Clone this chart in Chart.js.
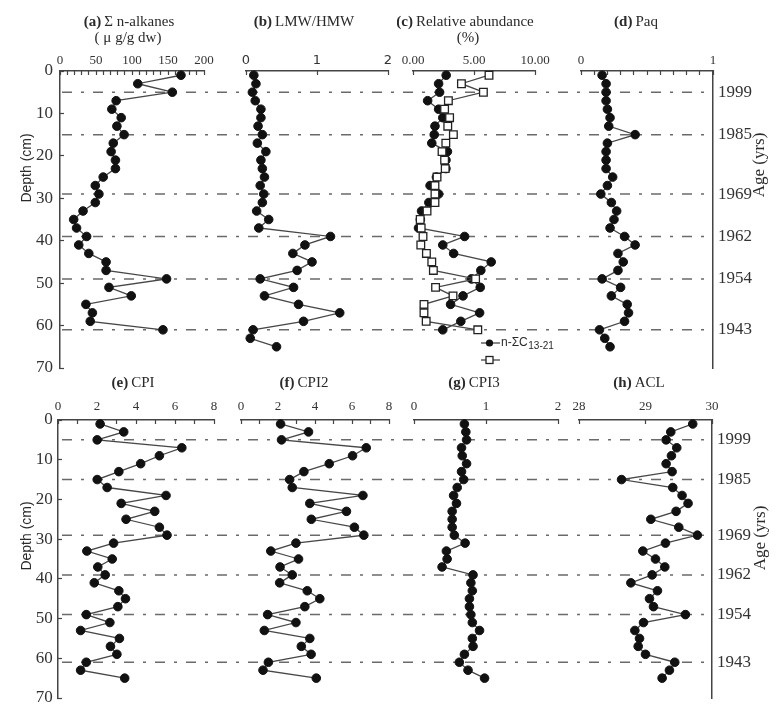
<!DOCTYPE html>
<html><head><meta charset="utf-8">
<script src="https://cdn.jsdelivr.net/npm/chart.js@4/dist/chart.umd.min.js"></script>
<style>
html,body{margin:0;padding:0;background:#fff;}
body{width:778px;height:711px;position:relative;overflow:hidden;}
canvas{position:absolute;}
</style></head><body>
<script>
// ---------- data ----------
const sampleDepths = [1,3,5,7,9,11,13,15,17,19,21,23,25,27,29,31,33,35,37,39,41,43,45,47,49,51,53,55,57,59,61,63,65];
const ageDepths = [5,15,29,39,49,61];
const ageLabels = ['1999','1985','1969','1962','1954','1943'];

const sumAlkanes = [168,108,156,78,72,85,79,89,74,71,77,77,60,49,54,49,32,19,23,37,26,40,64,64,148,68,99,36,45,42,143];
const lmwHmw = [0.11,0.14,0.09,0.13,0.21,0.21,0.17,0.23,0.16,0.28,0.21,0.23,0.26,0.20,0.25,0.23,0.15,0.32,0.18,1.19,0.83,0.66,0.93,0.72,0.20,0.67,0.26,0.74,1.32,0.81,0.10,0.06,0.43];
const relC13to21 = [2.72,2.10,2.18,1.20,2.10,2.44,1.80,1.74,1.54,2.82,2.70,2.70,1.92,1.40,2.10,1.30,0.70,0.60,0.45,4.23,2.44,3.33,6.41,5.56,4.79,5.51,4.10,3.08,5.46,3.92,2.44];
const relSecond = [6.23,3.97,5.77,2.90,2.59,3.00,2.85,3.31,2.69,2.38,2.59,2.64,1.97,1.80,1.80,1.80,1.15,0.59,0.67,0.82,0.64,1.10,1.54,1.67,5.13,1.85,3.28,0.90,0.90,1.08,5.31];
const paq = [0.16,0.19,0.19,0.19,0.20,0.22,0.21,0.41,0.20,0.19,0.19,0.19,0.24,0.20,0.15,0.23,0.27,0.25,0.22,0.33,0.41,0.28,0.32,0.28,0.16,0.30,0.23,0.35,0.36,0.33,0.14,0.18,0.22];
const cpi = [2.16,3.37,2.01,6.35,5.20,4.24,3.12,2.01,2.52,5.54,3.24,4.96,3.49,5.20,5.59,2.85,1.48,2.78,2.04,2.42,1.86,3.12,3.46,3.07,1.45,2.66,1.16,3.15,2.69,3.02,1.45,1.16,3.42];
const cpi2 = [2.14,3.65,2.19,6.77,6.03,4.77,3.40,2.63,2.77,6.59,3.72,5.70,3.80,6.13,6.64,2.97,1.61,3.11,2.11,2.77,2.09,3.58,4.26,3.45,1.44,2.97,1.26,3.72,3.26,3.79,1.48,1.19,4.07];
const cpi3 = [0.70,0.72,0.73,0.66,0.67,0.73,0.66,0.69,0.60,0.55,0.59,0.53,0.53,0.53,0.56,0.71,0.45,0.46,0.39,0.82,0.79,0.81,0.77,0.77,0.79,0.81,0.91,0.81,0.82,0.70,0.63,0.75,0.98];
const acl = [29.71,29.38,29.31,29.47,29.39,29.31,29.40,28.64,29.41,29.55,29.64,29.46,29.08,29.50,29.78,29.30,28.96,29.15,29.29,29.10,28.78,29.18,29.06,29.12,29.60,28.97,28.84,28.91,28.89,29.00,29.44,29.36,29.25];

// ---------- styling / layout ----------
const SERIF = "'Liberation Serif','Times New Roman',serif";
const SANS = "'Liberation Sans',Arial,sans-serif";
const SANS2 = "'DejaVu Sans',Verdana,sans-serif";
const INK = '#2a2a2a';
const AXIS = '#444';
Chart.defaults.font.family = SERIF;

const rows = {
  top:    {top:0,   height:380, areaTop:71,  areaBottom:368, labelPad:6.2, yLabelPad:11},
  bottom: {top:372, height:339, areaTop:420, areaBottom:698, labelPad:9.5, yLabelPad:9.3}
};

const panels = [
  {key:'a', row:'top', left:0, right:218, L:60, R:204, min:0, max:200, step:10, labelEvery:50, decimals:0, tickFamily:SERIF,
   series:[{values:sumAlkanes}],
   titles:[{bold:'(a)', text:'Σ n-alkanes', cx:129, cy:22},{text:'( μ g/g dw)', cx:128, cy:38}],
   leftAxis:{title:{text:'Depth (cm)', cx:27, cy:168}}},
  {key:'b', row:'top', left:218, right:397, L:232, R:388, min:0, max:2, step:1, labelEvery:1, decimals:0, tickFamily:SANS2,
   series:[{values:lmwHmw}],
   titles:[{bold:'(b)', text:'LMW/HMW', cx:304, cy:22}]},
  {key:'c', row:'top', left:397, right:551, canvasRight:566, L:405, R:535, min:0, max:10, step:5, labelEvery:5, decimals:2, tickFamily:SERIF,
   series:[{values:relC13to21, main:'n-ΣC', sub:'13-21'},{values:relSecond, marker:'square', main:'', sub:''}],
   titles:[{bold:'(c)', text:'Relative abundance', cx:465, cy:22},{text:'(%)', cx:468, cy:38}],
   legend:{x:481, y:343, dy:17}},
  {key:'d', row:'top', left:551, right:778, L:566, R:713, min:0, max:1, step:0.1, labelEvery:1, decimals:0, tickFamily:SERIF,
   series:[{values:paq}],
   titles:[{bold:'(d)', text:'Paq', cx:636, cy:22}],
   rightAxis:{title:{text:'Age (yrs)', cx:760, cy:165}}},
  {key:'e', row:'bottom', left:0, right:223, L:58, R:214, min:0, max:8, step:1, labelEvery:2, decimals:0, tickFamily:SERIF,
   series:[{values:cpi}],
   titles:[{bold:'(e)', text:'CPI', cx:133, cy:383}],
   leftAxis:{title:{text:'Depth (cm)', cx:27, cy:536}}},
  {key:'f', row:'bottom', left:223, right:398, L:232, R:389, min:0, max:8, step:1, labelEvery:2, decimals:0, tickFamily:SERIF,
   series:[{values:cpi2}],
   titles:[{bold:'(f)', text:'CPI2', cx:304, cy:383}]},
  {key:'g', row:'bottom', left:398, right:565, L:406, R:558, min:0, max:2, step:1, labelEvery:1, decimals:0, tickFamily:SERIF,
   series:[{values:cpi3}],
   titles:[{bold:'(g)', text:'CPI3', cx:474, cy:383}]},
  {key:'h', row:'bottom', left:565, right:778, L:572, R:712, min:28, max:30, step:1, labelEvery:1, decimals:0, tickFamily:SERIF,
   series:[{values:acl}],
   titles:[{bold:'(h)', text:'ACL', cx:639, cy:383}],
   rightAxis:{title:{text:'Age (yrs)', cx:761, cy:538}}}
];

function vText(ctx, text, x, y, font) {
  ctx.save();
  ctx.translate(x, y);
  ctx.rotate(-Math.PI / 2);
  ctx.font = font;
  ctx.fillStyle = INK;
  ctx.textAlign = 'center';
  ctx.textBaseline = 'middle';
  ctx.fillText(text, 0, 0);
  ctx.restore();
}

function decorPlugin(p, row) {
  return {
    id: 'decor_' + p.key,
    beforeDatasetsDraw(chart) {
      const ctx = chart.ctx, area = chart.chartArea, ys = chart.scales.y;
      const x0 = p.leftAxis ? area.left : 0;
      const x1 = p.rightAxis ? area.right : (p.right - p.left);
      ctx.save();
      ctx.strokeStyle = '#6a6a6a';
      ctx.lineWidth = 1.5;
      ctx.setLineDash([10, 9, 3, 9]);
      ctx.lineDashOffset = p.left + x0;
      ageDepths.forEach(d => {
        const y = ys.getPixelForValue(d);
        ctx.beginPath(); ctx.moveTo(x0, y); ctx.lineTo(x1, y); ctx.stroke();
      });
      ctx.restore();
    },
    afterDraw(chart) {
      const ctx = chart.ctx;
      (p.titles || []).forEach(t => {
        ctx.save();
        ctx.fillStyle = INK; ctx.textBaseline = 'middle'; ctx.textAlign = 'left';
        const bFont = 'bold 15px ' + SERIF, nFont = '15px ' + SERIF;
        let wb = 0;
        if (t.bold) { ctx.font = bFont; wb = ctx.measureText(t.bold).width + 3; }
        ctx.font = nFont;
        const wn = ctx.measureText(t.text).width;
        let x = t.cx - p.left - (wb + wn) / 2;
        const y = t.cy - row.top;
        if (t.bold) { ctx.font = bFont; ctx.fillText(t.bold, x, y); x += wb; ctx.font = nFont; }
        ctx.fillText(t.text, x, y);
        ctx.restore();
      });
      if (p.leftAxis) vText(ctx, p.leftAxis.title.text, p.leftAxis.title.cx - p.left, p.leftAxis.title.cy - row.top, '14px ' + SANS);
      if (p.rightAxis) vText(ctx, p.rightAxis.title.text, p.rightAxis.title.cx - p.left, p.rightAxis.title.cy - row.top, '17px ' + SERIF);
      if (p.legend) {
        chart.data.datasets.forEach((d, i) => {
          const s = p.series[i];
          const lx = p.legend.x - p.left, ly = p.legend.y + i * p.legend.dy - row.top;
          ctx.save();
          ctx.strokeStyle = d.borderColor; ctx.lineWidth = d.borderWidth;
          ctx.beginPath(); ctx.moveTo(lx, ly); ctx.lineTo(lx + 19, ly); ctx.stroke();
          const mx = lx + 8.5;
          ctx.fillStyle = d.pointBackgroundColor; ctx.strokeStyle = d.pointBorderColor; ctx.lineWidth = d.pointBorderWidth;
          if (d.pointStyle === 'rect') {
            ctx.fillRect(mx - 3.5, ly - 3.5, 7, 7); ctx.strokeRect(mx - 3.5, ly - 3.5, 7, 7);
          } else {
            ctx.beginPath(); ctx.arc(mx, ly, 3.6, 0, Math.PI * 2); ctx.fill();
          }
          if (s.main) {
            ctx.fillStyle = INK; ctx.textBaseline = 'middle'; ctx.textAlign = 'left';
            ctx.font = '12px ' + SANS;
            ctx.fillText(s.main, lx + 20, ly);
            const w = ctx.measureText(s.main).width;
            ctx.font = '10px ' + SANS;
            ctx.fillText(s.sub, lx + 20 + w + 0.5, ly + 3);
          }
          ctx.restore();
        });
      }
    }
  };
}

function buildPanel(p) {
  const row = rows[p.row];
  const cRight = p.canvasRight || p.right;
  const w = cRight - p.left;
  const canvas = document.createElement('canvas');
  canvas.width = w; canvas.height = row.height;
  canvas.style.left = p.left + 'px'; canvas.style.top = row.top + 'px';
  canvas.style.width = w + 'px'; canvas.style.height = row.height + 'px';
  document.body.appendChild(canvas);

  const xAxisH = row.areaTop - row.top;
  const padB = row.top + row.height - row.areaBottom;
  const leftW = p.L - p.left;
  const rightW = cRight - p.R;

  const datasets = p.series.map((s) => {
    const sq = s.marker === 'square';
    return {
      label: (s.main || '') + (s.sub || ''),
      data: s.values.map((v, k) => ({x: v, y: sampleDepths[k]})),
      showLine: true,
      borderColor: '#474747',
      borderWidth: 1.3,
      pointStyle: sq ? 'rect' : 'circle',
      pointRadius: sq ? 5.4 : 4.3,
      pointBackgroundColor: sq ? '#ffffff' : '#111111',
      pointBorderColor: sq ? '#222222' : '#111111',
      pointBorderWidth: sq ? 1.3 : 1,
      order: sq ? 1 : 2,
      clip: false
    };
  });

  const scales = {
    x: {
      type: 'linear', position: 'top', min: p.min, max: p.max,
      afterFit: (s) => { s.height = xAxisH; s.paddingLeft = 0; s.paddingRight = 0; },
      border: {display: true, color: AXIS, width: 1.5},
      grid: {display: true, drawOnChartArea: false, drawTicks: true, tickLength: -4, tickColor: AXIS, tickWidth: 1.2},
      ticks: {
        stepSize: p.step, autoSkip: false, maxRotation: 0, minRotation: 0,
        padding: row.labelPad, color: '#333',
        font: {family: p.tickFamily, size: 13},
        callback: (v) => {
          const k = v / p.labelEvery;
          return Math.abs(k - Math.round(k)) < 1e-6 ? Number(v).toFixed(p.decimals) : '';
        }
      }
    },
    y: {
      type: 'linear', position: 'left', min: 0, max: 70, reverse: true,
      display: !!p.leftAxis,
      afterFit: (s) => { s.width = leftW; s.paddingTop = 0; s.paddingBottom = 0; },
      border: {display: true, color: AXIS, width: 1.5},
      grid: {display: true, drawOnChartArea: false, drawTicks: true, tickLength: -4, tickColor: AXIS, tickWidth: 1.2},
      ticks: {stepSize: 10, padding: row.yLabelPad, color: '#333', font: {family: SERIF, size: 17}}
    }
  };
  if (p.rightAxis) {
    scales.yAge = {
      type: 'linear', position: 'right', min: 0, max: 70, reverse: true,
      afterBuildTicks: (s) => { s.ticks = ageDepths.map(v => ({value: v})); },
      afterFit: (s) => { s.width = rightW; s.paddingTop = 0; s.paddingBottom = 0; },
      border: {display: true, color: AXIS, width: 1.5},
      grid: {display: true, drawOnChartArea: false, drawTicks: false},
      ticks: {
        autoSkip: false, padding: 5, color: '#333', font: {family: SERIF, size: 17},
        callback: (v) => ageLabels[ageDepths.indexOf(v)]
      }
    };
  }

  new Chart(canvas, {
    type: 'scatter',
    data: {datasets},
    options: {
      responsive: false,
      animation: false,
      devicePixelRatio: 1,
      events: [],
      layout: {padding: {left: p.leftAxis ? 0 : leftW, right: p.rightAxis ? 0 : rightW, top: 0, bottom: padB}},
      plugins: {legend: {display: false}, tooltip: {enabled: false}, title: {display: false}},
      scales
    },
    plugins: [decorPlugin(p, row)]
  });
}

panels.forEach(buildPanel);
</script>
</body></html>
